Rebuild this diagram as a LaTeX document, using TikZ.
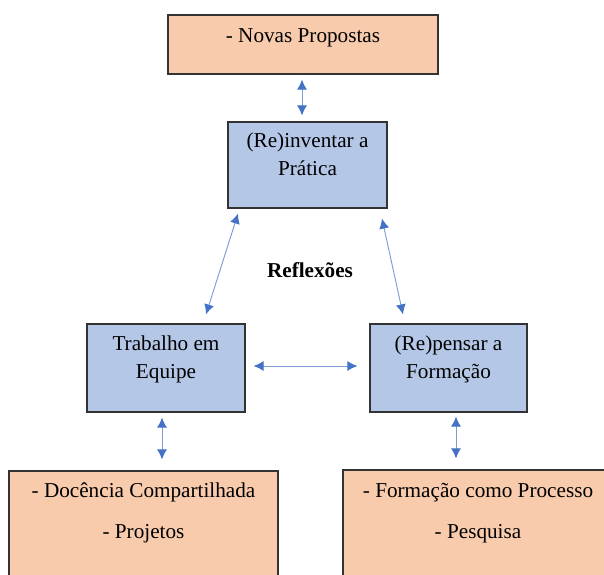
\documentclass[tikz,border=0pt]{standalone}
\usepackage{fontspec}
\setmainfont{Liberation Serif}
\usetikzlibrary{arrows.meta,calc}

\definecolor{boxorange}{HTML}{F8CBAD}
\definecolor{boxblue}{HTML}{B4C7E7}
\definecolor{arrowblue}{HTML}{4472C4}

\tikzset{
  orangebox/.style={draw=black!80,fill=boxorange,line width=0.9pt,inner sep=0pt},
  bluebox/.style={draw=black!80,fill=boxblue,line width=0.9pt,inner sep=0pt},
  boxtext/.style={anchor=base,inner sep=0pt,align=center,font=\fontsize{15.9}{21}\selectfont},
  link/.style={draw=arrowblue!70,line width=0.7pt,
    {Latex[length=7.5pt,width=7.5pt,color=arrowblue]}-{Latex[length=7.5pt,width=7.5pt,color=arrowblue]}}
}

\begin{document}
\begin{tikzpicture}[x=0.75pt,y=0.75pt,yscale=-1,xscale=1]
%set diagram to 604 x 575
\clip (0,0) rectangle (604,575);

% Boxes
\node[orangebox,minimum width=270*0.75pt,minimum height=59*0.75pt] (nov) at (303,44.5) {};
\node[bluebox,minimum width=159*0.75pt,minimum height=86*0.75pt] (pra) at (307.5,165) {};
\node[bluebox,minimum width=158*0.75pt,minimum height=88*0.75pt] (tra) at (166,368) {};
\node[bluebox,minimum width=157*0.75pt,minimum height=88*0.75pt] (rep) at (448.5,368) {};
\node[orangebox,minimum width=269*0.75pt,minimum height=130*0.75pt] (doc) at (143.5,536) {};
\node[orangebox,minimum width=270*0.75pt,minimum height=130*0.75pt] (frm) at (478,535) {};

% Text Nodes (base = baseline of the last line)
\node[boxtext] (nov-t) at ($(nov.north)+(0,28)$) {- Novas Propostas};
\node[boxtext] (pra-t) at ($(pra.north)+(0,54.5)$) {(Re)inventar a\\Prática};
\node[boxtext] (tra-t) at ($(tra.north)+(0,55.5)$) {Trabalho em\\Equipe};
\node[boxtext] (rep-t) at ($(rep.north)+(0,55.5)$) {(Re)pensar a\\Formação};
\node[boxtext] (doc-t) at ($(doc.north)+(0,68.5)$) {- Docência Compartilhada\\[9.75pt]- Projetos};
\node[boxtext] (frm-t) at ($(frm.north)+(0,69)$) {- Formação como Processo\\[9.75pt]- Pesquisa};
\node[boxtext,anchor=center,font=\fontsize{15.9}{21}\selectfont\bfseries] (refl) at (310,270) {Reflexões};

% Arrows
\draw[link] ($(nov.south)+(-1,5)$) -- ($(pra.north)+(-5.5,-6)$);
\draw[link] ($(pra.south)+(-69.5,5)$) -- ($(tra.north)+(40,-9)$);
\draw[link] ($(pra.south)+(74.5,10)$) -- ($(rep.north)+(-45.5,-9)$);
\draw[link] ($(tra.east)+(8,-2)$) -- ($(rep.west)+(-12,-2)$);
\draw[link] ($(tra.south)+(-4,5)$) -- ($(doc.north)+(18.5,-11)$);
\draw[link] ($(rep.south)+(7.5,4)$) -- ($(frm.north)+(-22,-11)$);

\end{tikzpicture}
\end{document}
